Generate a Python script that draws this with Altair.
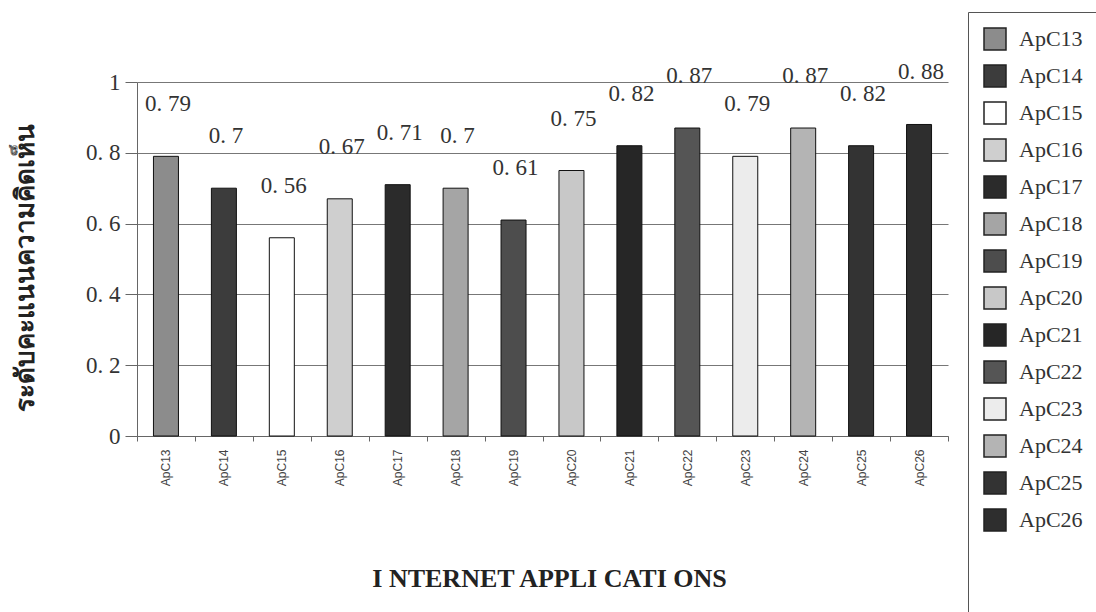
import altair as alt
import pandas as pd

categories = ["ApC13", "ApC14", "ApC15", "ApC16", "ApC17", "ApC18", "ApC19",
              "ApC20", "ApC21", "ApC22", "ApC23", "ApC24", "ApC25", "ApC26"]
values = [0.79, 0.70, 0.56, 0.67, 0.71, 0.70, 0.61,
          0.75, 0.82, 0.87, 0.79, 0.87, 0.82, 0.88]
value_labels = ["0. 79", "0. 7", "0. 56", "0. 67", "0. 71", "0. 7", "0. 61",
                "0. 75", "0. 82", "0. 87", "0. 79", "0. 87", "0. 82", "0. 88"]
fills = ["#8c8c8c", "#3c3c3c", "#ffffff", "#cfcfcf", "#2b2b2b", "#a5a5a5", "#4d4d4d",
         "#c8c8c8", "#262626", "#555555", "#ececec", "#b4b4b4", "#333333", "#2e2e2e"]
y_ticks = [0, 0.2, 0.4, 0.6, 0.8, 1.0]

df = pd.DataFrame({"app": categories, "score": values, "label": value_labels})

x_enc = alt.X(
    "app:N", sort=categories,
    scale=alt.Scale(paddingInner=0, paddingOuter=0),
    axis=alt.Axis(
        title="I NTERNET APPLI CATI ONS",
        labelAngle=-90, labelFont="Liberation Sans", labelFontSize=12,
        labelColor="#444", labelPadding=8,
        tickBand="extent", tickSize=5, tickColor="#666", domainColor="#666",
        titleFont="Liberation Serif", titleFontWeight="bold", titleFontSize=26,
        titleColor="#222", titleX=412, titleY=142, titleBaseline="middle",
    ),
)
y_enc = alt.Y(
    "score:Q",
    scale=alt.Scale(domain=[0, 1], nice=False),
    axis=alt.Axis(
        title="ระดับคะแนนความคิดเห็น",
        values=y_ticks,
        labelExpr="datum.value == 0 ? '0' : datum.value == 1 ? '1' : replace(format(datum.value, '.1f'), '.', '. ')",
        labelFont="Liberation Serif", labelFontSize=23, labelColor="#333",
        labelPadding=5, tickSize=12, tickColor="#666", domainColor="#666",
        grid=True, gridColor="#777", gridWidth=1,
        titleFontWeight="bold", titleFontSize=26, titleColor="#222",
        titleX=-112, titleY=185, titleAngle=270, titleBaseline="middle",
    ),
)

bars = alt.Chart(df).mark_bar(size=25, stroke="#111", strokeWidth=1).encode(
    x=x_enc,
    y=y_enc,
    color=alt.Color(
        "app:N", sort=categories,
        scale=alt.Scale(domain=categories, range=fills),
        legend=alt.Legend(
            title="\u00a0" * 28, titleOrient="bottom", titleFontSize=22,
            titlePadding=50,
            orient="none", legendX=831, legendY=-70,
            strokeColor="#555", padding=15, symbolType="square",
            symbolSize=484, symbolStrokeColor="#222", symbolStrokeWidth=1.5,
            symbolOpacity=1, labelFont="Liberation Serif", labelFontSize=22,
            labelColor="#333", rowPadding=9, labelOffset=12,
        ),
    ),
)

texts = alt.Chart(df).mark_text(
    dy=-52, dx=2, baseline="middle", font="Liberation Serif",
    fontSize=23, color="#333",
).encode(x=alt.X("app:N", sort=categories), y="score:Q", text="label:N")

chart = alt.layer(bars, texts).properties(
    width=811, height=354,
    autosize=alt.AutoSizeParams(type="none"),
    padding={"left": 137, "top": 82, "right": 148, "bottom": 176},
    background="white",
).configure_view(stroke=None)

chart.save("out.html", embed_options={"renderer": "svg", "actions": False})
